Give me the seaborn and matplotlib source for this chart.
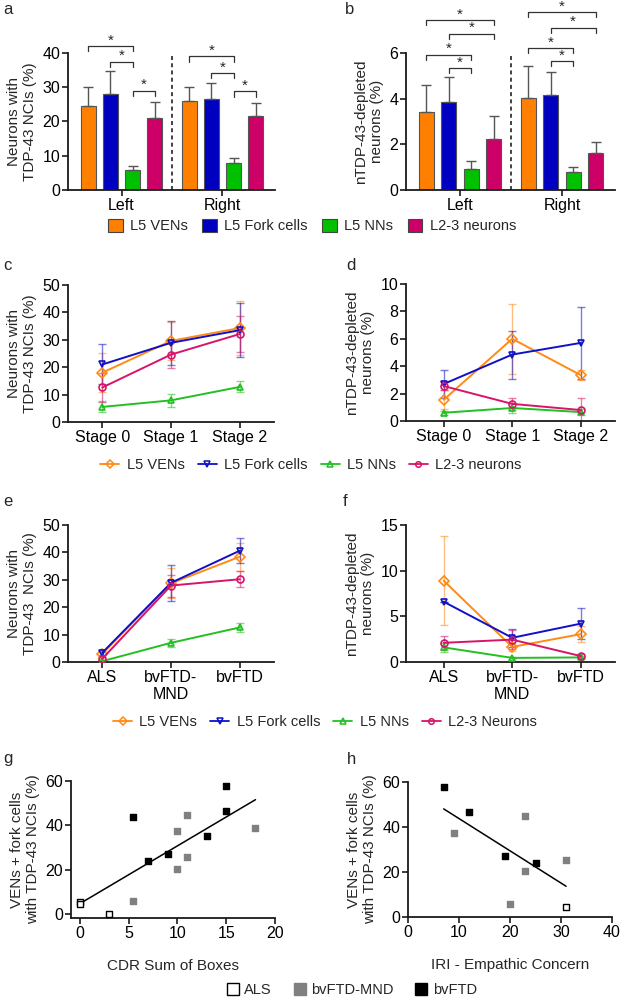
import matplotlib
matplotlib.use('Agg')
import matplotlib.pyplot as plt
from matplotlib.lines import Line2D
from matplotlib.patches import Patch
import numpy as np
import pandas as pd
import seaborn as sns

W, H = 620, 999
FS = 11       # axis labels
LFS = 10.5    # legends
TFS = 11.5    # tick labels

CELLS = ['L5 VENs', 'L5 Fork cells', 'L5 NNs', 'L2-3 neurons']
SIDES = ['Left', 'Right']
STAGES = ['Stage 0', 'Stage 1', 'Stage 2']
DIAGNOSES = ['ALS', 'bvFTD-\nMND', 'bvFTD']
GROUPS = ['ALS', 'bvFTD-MND', 'bvFTD']

# panel a: neurons with TDP-43 NCIs (%), mean and SEM
nci_left = [24.6, 28.1, 5.7, 21.0]
nci_left_sem = [5.6, 6.5, 1.3, 4.8]
nci_right = [25.9, 26.5, 7.8, 21.6]
nci_right_sem = [4.3, 4.7, 1.4, 3.8]
# (side, bar i, bar j, height)
nci_brackets = [(0, 0, 2, 42.0), (0, 1, 2, 37.4), (0, 2, 3, 29.0),
                (1, 0, 2, 39.0), (1, 1, 2, 34.1), (1, 2, 3, 28.8)]

# panel b: nTDP-43-depleted neurons (%)
depl_left = [3.41, 3.84, 0.91, 2.23]
depl_left_sem = [1.20, 1.09, 0.36, 0.99]
depl_right = [4.03, 4.14, 0.80, 1.64]
depl_right_sem = [1.39, 1.01, 0.22, 0.48]
depl_brackets = [(0, 0, 3, 7.44), (0, 1, 3, 6.84), (0, 0, 2, 5.93), (0, 1, 2, 5.34),
                 (1, 0, 3, 7.79), (1, 1, 3, 7.10), (1, 0, 2, 6.22), (1, 1, 2, 5.64)]

# panel c: NCIs by stage (VENs, fork, NNs, L2-3)
stage_nci = [[18.0, 29.6, 34.3], [21.0, 28.9, 33.5], [5.5, 7.9, 12.8], [12.6, 24.6, 32.1]]
stage_nci_sem = [[7.2, 7.0, 10.0], [7.3, 8.0, 9.8], [2.0, 2.4, 2.0], [5.3, 5.0, 6.5]]

# panel d: depleted by stage
stage_depl = [[1.55, 6.0, 3.35], [2.7, 4.85, 5.7], [0.6, 0.95, 0.65], [2.55, 1.25, 0.8]]
stage_depl_sem = [[0.7, 2.55, 0.35], [1.0, 1.75, 2.6], [0.15, 0.35, 0.2], [0.3, 0.45, 0.85]]

# panel e: NCIs by diagnosis
diag_nci = [[3.0, 28.7, 38.4], [3.4, 28.9, 40.6], [0.3, 7.0, 12.6], [1.2, 27.9, 30.2]]
diag_nci_sem = [[1.0, 5.5, 5.2], [0.8, 6.5, 4.6], [0.3, 1.5, 1.8], [0.8, 4.0, 3.0]]

# panel f: depleted by diagnosis
diag_depl = [[8.9, 1.65, 3.05], [6.6, 2.65, 4.2], [1.6, 0.45, 0.5], [2.1, 2.45, 0.65]]
diag_depl_sem = [[4.9, 0.4, 0.85], [0.0, 1.0, 1.7], [0.5, 0.15, 0.15], [0.8, 1.0, 0.2]]

# panel g: CDR sum of boxes vs VENs + fork cells with NCIs
cdr_x = [0, 0, 3, 5.5, 10, 10, 11, 11, 18, 5.5, 7, 9, 13, 15, 15]
cdr_y = [5.5, 4.5, 0.0, 6.0, 37.3, 20.2, 44.8, 25.5, 39.0, 43.8, 24.0, 27.0, 35.0, 57.6, 46.4]
cdr_group = ['ALS'] * 3 + ['bvFTD-MND'] * 6 + ['bvFTD'] * 6

# panel h: IRI empathic concern
iri_x = [31, 9, 20, 23, 23, 31, 7, 12, 19, 25]
iri_y = [4.5, 37.4, 5.9, 45.0, 20.4, 25.4, 57.9, 46.5, 27.0, 24.2]
iri_group = ['ALS'] + ['bvFTD-MND'] * 5 + ['bvFTD'] * 4

BAR_COLORS = dict(zip(CELLS, ['#FF8000', '#0000C0', '#00C000', '#CC0066']))
LINE_COLORS = dict(zip(CELLS, ['#FF8A14', '#1010C8', '#22C022', '#D6156A']))
LINE_MARKERS = dict(zip(CELLS, ['D', 'v', '^', 'o']))
FACE = {'ALS': 'white', 'bvFTD-MND': '#808080', 'bvFTD': 'black'}
EDGE = {'ALS': 'black', 'bvFTD-MND': '#808080', 'bvFTD': 'black'}

sns.set_style('ticks')
plt.rcParams['font.family'] = ['Liberation Sans', 'DejaVu Sans']
plt.rcParams['axes.edgecolor'] = '#1a1a1a'


def px_axes(fig, x0, y0, x1, y1):
    return fig.add_axes([x0 / W, 1 - y1 / H, (x1 - x0) / W, (y1 - y0) / H])


def style_axis(ax):
    sns.despine(ax=ax)
    for s in ('left', 'bottom'):
        ax.spines[s].set_linewidth(1.3)
    ax.tick_params(direction='out', length=4, width=1.2, labelsize=TFS, pad=1.5,
                   colors='#1a1a1a', labelcolor='black')


def bar_panel(ax, left, left_sem, right, right_sem, brackets, ymax, yticks, ylabel):
    df = pd.DataFrame({'side': np.repeat(SIDES, 4), 'cell': CELLS * 2, 'value': left + right})
    sns.barplot(data=df, x='side', y='value', hue='cell', hue_order=CELLS, palette=BAR_COLORS,
                width=0.88, gap=0.32, errorbar=None, edgecolor='#555555', linewidth=0.8,
                saturation=1, legend=False, ax=ax)
    offsets = (np.arange(4) - 1.5) * 0.22
    xs = np.concatenate([g + offsets for g in range(2)])
    sem = np.array(left_sem + right_sem)
    ax.errorbar(xs, left + right, yerr=[np.zeros(8), sem], fmt='none', ecolor='#555555',
                elinewidth=1, capsize=3.5, capthick=1, zorder=3)
    d = 0.038 * ymax
    for g, i, j, y in brackets:
        x1, x2 = g + offsets[i], g + offsets[j]
        ax.plot([x1, x1, x2, x2], [y - d, y, y, y - d], color='#333333', lw=0.9, clip_on=False)
        ax.text((x1 + x2) / 2, y - 0.01 * ymax, '*', ha='center', va='bottom', fontsize=FS,
                clip_on=False)
    ax.plot([0.5, 0.5], [0, ymax], ls=(0, (2.2, 1.8)), color='#333333', lw=1.3)
    ax.set_ylim(0, ymax)
    ax.set_yticks(yticks)
    ax.set_xlim(-0.53, 1.52)
    ax.set_xlabel('')
    ax.set_ylabel(ylabel, fontsize=FS, labelpad=4)
    style_axis(ax)


def line_panel(ax, series, sems, xlabels, ymax, yticks, ylabel, xlim):
    rows = []
    for cell, vals in zip(CELLS, series):
        for k, v in enumerate(vals):
            rows.append(dict(cell=cell, pos=k, value=v))
    df = pd.DataFrame(rows)
    sns.lineplot(data=df, x='pos', y='value', hue='cell', style='cell', hue_order=CELLS,
                 style_order=CELLS, palette=LINE_COLORS, markers=LINE_MARKERS, dashes=False,
                 legend=False, errorbar=None, ax=ax, lw=1.4, ms=5, mew=1.2, zorder=3)
    for line in ax.lines:
        line.set_markerfacecolor('none')
        line.set_markeredgecolor(line.get_color())
    for cell, vals, err in zip(CELLS, series, sems):
        ax.errorbar(range(3), vals, yerr=err, fmt='none', ecolor=LINE_COLORS[cell], alpha=0.55,
                    elinewidth=1, capsize=3, capthick=1, zorder=2)
    ax.set_xticks(range(3))
    ax.set_xticklabels(xlabels)
    ax.set_xlim(*xlim)
    ax.set_ylim(0, ymax)
    ax.set_yticks(yticks)
    ax.set_xlabel('')
    ax.set_ylabel(ylabel, fontsize=FS, labelpad=4)
    style_axis(ax)


def scatter_panel(ax, x, y, group, xlabel, xlim, ylim, xticks):
    df = pd.DataFrame(dict(x=x, y=y, group=group))
    sns.regplot(data=df, x='x', y='y', scatter=False, ci=None, color='black',
                line_kws=dict(lw=1.1), ax=ax)
    for name in GROUPS:
        sub = df[df.group == name]
        sns.scatterplot(data=sub, x='x', y='y', marker='s', s=24, color=FACE[name],
                        edgecolor=EDGE[name], linewidth=1, ax=ax, legend=False, zorder=3,
                        clip_on=False)
    ax.set_xlim(*xlim)
    ax.set_ylim(*ylim)
    ax.set_xticks(xticks)
    ax.set_yticks([0, 20, 40, 60])
    ax.set_xlabel(xlabel, fontsize=FS, labelpad=13)
    ax.set_ylabel('VENs + fork cells\nwith TDP-43 NCIs (%)', fontsize=FS, labelpad=4)
    style_axis(ax)


fig = plt.figure(figsize=(W / 100, H / 100), dpi=100)

ax_a = px_axes(fig, 68, 53, 275, 190)
bar_panel(ax_a, nci_left, nci_left_sem, nci_right, nci_right_sem, nci_brackets,
          40, [0, 10, 20, 30, 40], 'Neurons with\nTDP-43 NCIs (%)')
ax_b = px_axes(fig, 406, 53, 615, 190)
bar_panel(ax_b, depl_left, depl_left_sem, depl_right, depl_right_sem, depl_brackets,
          6, [0, 2, 4, 6], 'nTDP-43-depleted\nneurons (%)')

ax_c = px_axes(fig, 68, 285, 274, 422)
line_panel(ax_c, stage_nci, stage_nci_sem, STAGES, 50, range(0, 51, 10),
           'Neurons with\nTDP-43 NCIs (%)', (-0.5, 2.5))
ax_d = px_axes(fig, 406, 284, 615, 421)
line_panel(ax_d, stage_depl, stage_depl_sem, STAGES, 10, range(0, 11, 2),
           'nTDP-43-depleted\nneurons (%)', (-0.55, 2.5))

ax_e = px_axes(fig, 68, 525, 274, 662)
line_panel(ax_e, diag_nci, diag_nci_sem, DIAGNOSES, 50, range(0, 51, 10),
           'Neurons with\nTDP-43  NCIs (%)', (-0.5, 2.5))
ax_f = px_axes(fig, 406, 525, 615, 662)
line_panel(ax_f, diag_depl, diag_depl_sem, DIAGNOSES, 15, [0, 5, 10, 15],
           'nTDP-43-depleted\nneurons (%)', (-0.55, 2.5))

ax_g = px_axes(fig, 71, 781, 275, 918)
scatter_panel(ax_g, cdr_x, cdr_y, cdr_group, 'CDR Sum of Boxes', (-0.9, 20), (-1.8, 60),
              [0, 5, 10, 15, 20])
ax_h = px_axes(fig, 408, 782, 612, 917)
scatter_panel(ax_h, iri_x, iri_y, iri_group, 'IRI - Empathic Concern', (0, 40), (0, 60),
              [0, 10, 20, 30, 40])

for label, x, y in [('a', 3, 10), ('b', 345, 10), ('c', 3, 265), ('d', 346, 265),
                    ('e', 3, 502), ('f', 343, 502), ('g', 3, 758), ('h', 347, 760)]:
    fig.text(x / W, 1 - y / H, label, fontsize=12, va='center', ha='left')

bar_handles = [Patch(facecolor=BAR_COLORS[c], edgecolor='#444444', linewidth=0.8) for c in CELLS]
fig.legend(bar_handles, CELLS, loc='center', bbox_to_anchor=(312 / W, 1 - 226 / H), ncol=4,
           frameon=False, fontsize=LFS, handlelength=1.0, handleheight=1.0,
           handletextpad=0.5, columnspacing=1.0)


def line_handles():
    return [Line2D([], [], color=LINE_COLORS[c], marker=LINE_MARKERS[c], mfc='none',
                   mec=LINE_COLORS[c], lw=1.3, ms=4, mew=1.1) for c in CELLS]


fig.legend(line_handles(), CELLS, loc='center', bbox_to_anchor=(311 / W, 1 - 465 / H), ncol=4,
           frameon=False, fontsize=LFS, handlelength=1.3, handletextpad=0.5,
           columnspacing=0.9)
fig.legend(line_handles(), CELLS[:3] + ['L2-3 Neurons'], loc='center',
           bbox_to_anchor=(325 / W, 1 - 722 / H), ncol=4, frameon=False, fontsize=LFS,
           handlelength=1.3, handletextpad=0.5, columnspacing=0.9)

sq_handles = [Line2D([], [], ls='', marker='s', ms=9, mfc=FACE[g], mec=EDGE[g], mew=1)
              for g in GROUPS]
fig.legend(sq_handles, GROUPS, loc='center', bbox_to_anchor=(352 / W, 1 - 990 / H), ncol=3,
           frameon=False, fontsize=LFS, handlelength=0.8, handletextpad=0.4, columnspacing=1.5)

fig.savefig('out.png', dpi=100)
